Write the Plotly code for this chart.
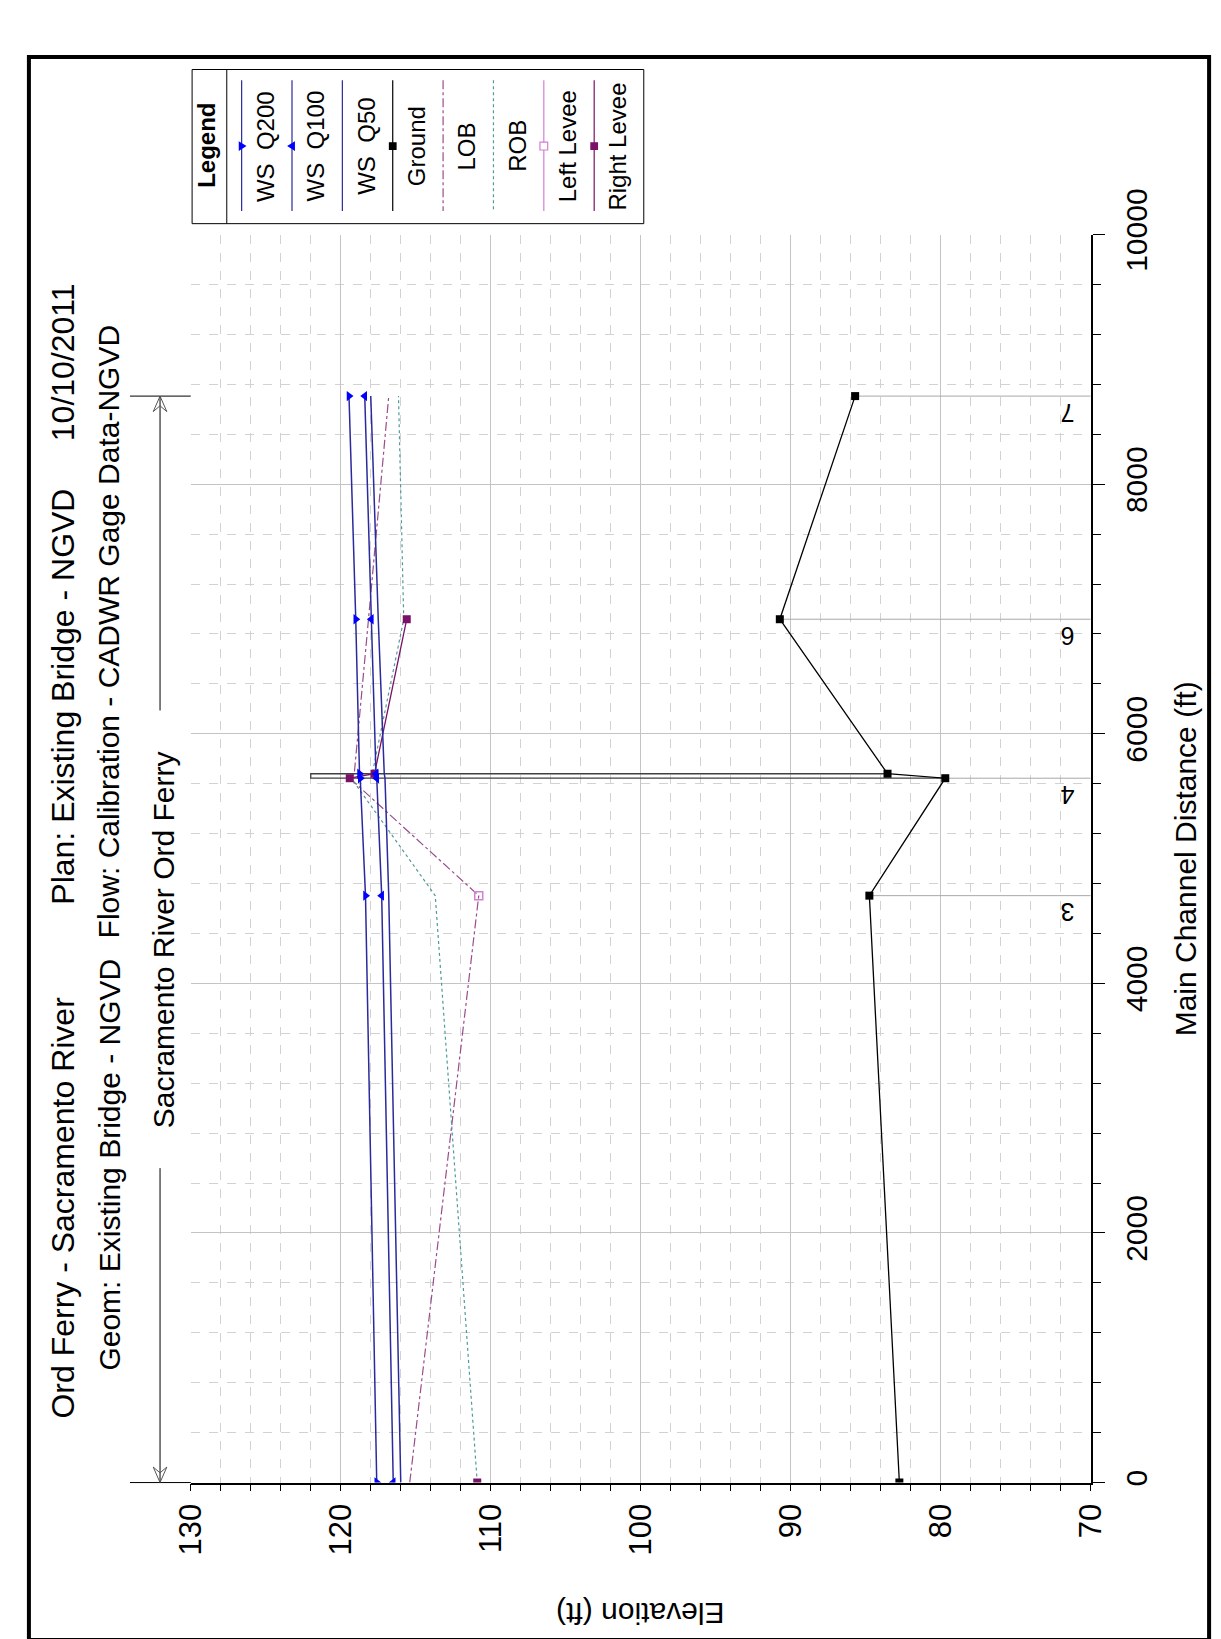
import plotly.graph_objects as go

# ---------------- data ----------------
distance = [0, 4703, 5644, 5680, 6918, 8706]          # main channel distance (ft)
ws_q200 = [117.6, 118.35, 118.7, 118.75, 119.0, 119.45]
ws_q100 = [116.5, 117.27, 117.6, 117.65, 117.96, 118.4]
ws_q50 = [116.0, 116.8, 117.05, 117.1, 117.5, 118.0]
ground = [82.76, 84.76, 79.7, 83.55, 90.73, 85.71]
lob = [115.4, 110.8, 119.4, 119.1, 118.15, 116.8]
rob = [110.9, 113.7, 119.3, 117.9, 115.8, 116.15]
left_levee = [None, 110.8, None, None, None, None]
right_levee = [110.9, None, 119.4, 117.75, 115.6, None]
bridge_top = 122.0
station_labels = ["3", "4", "6", "7"]
station_label_dist = [4703, 5644, 6918, 8706]
station_label_ground = [84.76, 79.7, 90.73, 85.71]

elev_range = [130, 70]
dist_range = [0, 10000]

title_l1 = ["Ord Ferry - Sacramento River", "Plan: Existing Bridge - NGVD", "10/10/2011"]
title_l2 = ["Geom: Existing Bridge - NGVD", "Flow: Calibration - CADWR Gage Data-NGVD"]
reach_name = "Sacramento River Ord Ferry"
legend_names = ["WS\u00a0\u00a0Q200", "WS\u00a0\u00a0Q100", "WS\u00a0\u00a0Q50", "Ground",
                "LOB", "ROB", "Left Levee", "Right Levee"]

# ---------------- layout constants ----------------
W, H = 1221, 1639
X0, X1 = 169.6, 1096.2      # plot area (pixels)
YT, YB = 186.3, 1473.5
FONT = "Liberation Sans, Arial, sans-serif"

WS_LINE = "#2a2a9c"
WS_MARK = "#0000ff"
LOB_C = "#9a4c8c"
ROB_C = "#4f9a9a"
LL_C = "#d47ed4"
RL_C = "#7a1068"


def px(x):
    return x / W


def py(y):
    return 1 - y / H


def d2y(d):
    return YB - (d - dist_range[0]) / (dist_range[1] - dist_range[0]) * (YB - YT)


fig = go.Figure()

# bridge (drawn as two faces and deck)
fig.add_trace(go.Scatter(
    x=[ground[3], bridge_top, bridge_top, ground[2]],
    y=[distance[3], distance[3], distance[2], distance[2]],
    mode="lines", line=dict(color="#404040", width=1.3), showlegend=False, hoverinfo="skip"))

# station marker lines (ground to axis)
sx, sy = [], []
for g, d in zip(station_label_ground, station_label_dist):
    sx += [g, elev_range[1], None]
    sy += [d, d, None]
fig.add_trace(go.Scatter(x=sx, y=sy, mode="lines", line=dict(color="#a8a8a8", width=1),
                         showlegend=False, hoverinfo="skip"))

fig.add_trace(go.Scatter(x=ground, y=distance, mode="lines+markers",
                         line=dict(color="black", width=1.3),
                         marker=dict(symbol="square", size=8, color="black"), showlegend=False))
fig.add_trace(go.Scatter(x=lob, y=distance, mode="lines",
                         line=dict(color=LOB_C, width=1.2, dash="dashdot"), showlegend=False))
fig.add_trace(go.Scatter(x=rob, y=distance, mode="lines",
                         line=dict(color=ROB_C, width=1.2, dash="dot"), showlegend=False))
fig.add_trace(go.Scatter(x=left_levee, y=distance, mode="lines+markers", connectgaps=False,
                         line=dict(color=LL_C, width=1.2),
                         marker=dict(symbol="square-open", size=8, color=LL_C, line=dict(width=1.5)),
                         showlegend=False))
fig.add_trace(go.Scatter(x=right_levee, y=distance, mode="lines+markers", connectgaps=False,
                         line=dict(color=RL_C, width=1.3),
                         marker=dict(symbol="square", size=8, color=RL_C), showlegend=False))
fig.add_trace(go.Scatter(x=ws_q50, y=distance, mode="lines",
                         line=dict(color=WS_LINE, width=1.5), showlegend=False))
fig.add_trace(go.Scatter(x=ws_q100, y=distance, mode="lines+markers",
                         line=dict(color=WS_LINE, width=1.5),
                         marker=dict(symbol="triangle-left", size=9, color=WS_MARK), showlegend=False))
fig.add_trace(go.Scatter(x=ws_q200, y=distance, mode="lines+markers",
                         line=dict(color=WS_LINE, width=1.5),
                         marker=dict(symbol="triangle-right", size=9, color=WS_MARK), showlegend=False))

# ---------------- axes ----------------
fig.update_xaxes(
    domain=[px(X0), px(X1)], range=elev_range, autorange=False,
    tick0=0, dtick=10, tickformat="d", showgrid=True, gridcolor="#c4c4c4", gridwidth=1,
    zeroline=False, showline=True, linecolor="black", linewidth=1.5,
    ticks="outside", ticklen=7, tickcolor="black", tickwidth=1,
    tickangle=-90, tickfont=dict(family=FONT, size=31, color="black"),
    minor=dict(dtick=2, showgrid=True, gridcolor="#d2d2d2", griddash="dash", gridwidth=1,
               ticks="outside", ticklen=7, tickcolor="black", tickwidth=1),
    anchor="y")
fig.update_yaxes(
    domain=[py(YB), py(YT)], range=dist_range, autorange=False, side="right",
    tick0=0, dtick=2000, tickformat="d", showgrid=True, gridcolor="#c4c4c4", gridwidth=1,
    zeroline=False, showline=True, linecolor="black", linewidth=1.5,
    ticks="outside", ticklen=12, tickcolor="black", tickwidth=1,
    tickangle=-90, tickfont=dict(family=FONT, size=30, color="black"),
    ticklabelstandoff=6,
    minor=dict(dtick=400, showgrid=True, gridcolor="#d2d2d2", griddash="dash", gridwidth=1,
               ticks="outside", ticklen=8, tickcolor="black", tickwidth=1),
    anchor="x")

shapes = []
annotations = []


def line(x0, y0, x1, y1, color="black", width=1, dash="solid"):
    shapes.append(dict(type="line", xref="paper", yref="paper",
                       x0=px(x0), y0=py(y0), x1=px(x1), y1=py(y1),
                       line=dict(color=color, width=width, dash=dash)))


def text(x, y, s, size, angle=-90, bold=False):
    annotations.append(dict(xref="paper", yref="paper", x=px(x), y=py(y),
                            text=("<b>%s</b>" % s) if bold else s, showarrow=False,
                            textangle=angle, xanchor="center", yanchor="middle",
                            font=dict(family=FONT, size=size, color="black")))


# outer border
shapes.append(dict(type="rect", xref="paper", yref="paper", x0=px(3), y0=py(3), x1=px(1218), y1=py(1636),
                   line=dict(color="black", width=4)))

# titles
text(38, 1190, title_l1[0], 32)
text(38, 663, title_l1[1], 32)
text(38, 318, title_l1[2], 32)
text(85, 1146, title_l2[0], 30)
text(85, 596, title_l2[1], 30)

# reach arrow and name
top_y = d2y(distance[-1])
bot_y = d2y(distance[0])
mid_y = (top_y + bot_y) / 2
AX = 138
line(107, top_y, X0, top_y)
line(107, bot_y, X0, bot_y)
line(AX, top_y, AX, mid_y - 236)
line(AX, mid_y + 236, AX, bot_y)
for tip, s in ((top_y, 1), (bot_y, -1)):
    line(AX, tip, AX - 7, tip + 16 * s, color="#555555")
    line(AX, tip, AX + 7, tip + 16 * s, color="#555555")
    line(AX - 7, tip + 16 * s, AX, tip + 10 * s, color="#555555")
    line(AX + 7, tip + 16 * s, AX, tip + 10 * s, color="#555555")
text(141, mid_y, reach_name, 30)

# axis titles
text((X0 + X1) / 2, 1608, "Elevation (ft)", 30, angle=180)
text(1194, (YT + YB) / 2, "Main Channel Distance (ft)", 30)

# station labels
for lab, d in zip(station_labels, station_label_dist):
    annotations.append(dict(xref="paper", yref="y", x=px(1072), y=d, yshift=-17, text=lab,
                            showarrow=False, textangle=180, xanchor="center", yanchor="middle",
                            font=dict(family=FONT, size=25, color="black")))

# legend box
LB_X0, LB_X1, LB_Y0, LB_Y1 = 171, 636, 16, 175
shapes.append(dict(type="rect", xref="paper", yref="paper", x0=px(LB_X0), y0=py(LB_Y0),
                   x1=px(LB_X1), y1=py(LB_Y1), line=dict(color="black", width=1), fillcolor="white",
                   layer="below"))
line(206.7, LB_Y0, 206.7, LB_Y1)
text(185, 94, "Legend", 24, bold=True)
styles = [
    (WS_LINE, "solid", "tri-r", WS_MARK),
    (WS_LINE, "solid", "tri-l", WS_MARK),
    (WS_LINE, "solid", None, None),
    ("black", "solid", "sq", "black"),
    (LOB_C, "dashdot", None, None),
    (ROB_C, "dot", None, None),
    (LL_C, "solid", "sq-open", LL_C),
    (RL_C, "solid", "sq", RL_C),
]
for i, (name, (lc, ld, mk, mc)) in enumerate(zip(legend_names, styles)):
    lx = 222 + 51.85 * i
    line(lx, 27, lx, 162, color=lc, width=1.2, dash=ld)
    my = 95
    if mk == "tri-r":
        path = "M %f,%f L %f,%f L %f,%f Z" % (px(lx - 3), py(my - 5), px(lx + 5), py(my), px(lx - 3), py(my + 5))
        shapes.append(dict(type="path", xref="paper", yref="paper", path=path, fillcolor=mc, line=dict(width=0)))
    elif mk == "tri-l":
        path = "M %f,%f L %f,%f L %f,%f Z" % (px(lx + 3), py(my - 5), px(lx - 5), py(my), px(lx + 3), py(my + 5))
        shapes.append(dict(type="path", xref="paper", yref="paper", path=path, fillcolor=mc, line=dict(width=0)))
    elif mk == "sq":
        shapes.append(dict(type="rect", xref="paper", yref="paper", x0=px(lx - 4), x1=px(lx + 4),
                           y0=py(my - 4), y1=py(my + 4), fillcolor=mc, line=dict(width=0)))
    elif mk == "sq-open":
        shapes.append(dict(type="rect", xref="paper", yref="paper", x0=px(lx - 4), x1=px(lx + 4),
                           y0=py(my - 4), y1=py(my + 4), fillcolor="white", line=dict(color=mc, width=1.2)))
    text(lx + 24, 95, name, 24)

fig.update_layout(
    width=W, height=H, margin=dict(l=0, r=0, t=0, b=0, pad=0),
    paper_bgcolor="white", plot_bgcolor="white", showlegend=False,
    shapes=shapes, annotations=annotations,
    font=dict(family=FONT, color="black"))

fig.write_html("out.html")
